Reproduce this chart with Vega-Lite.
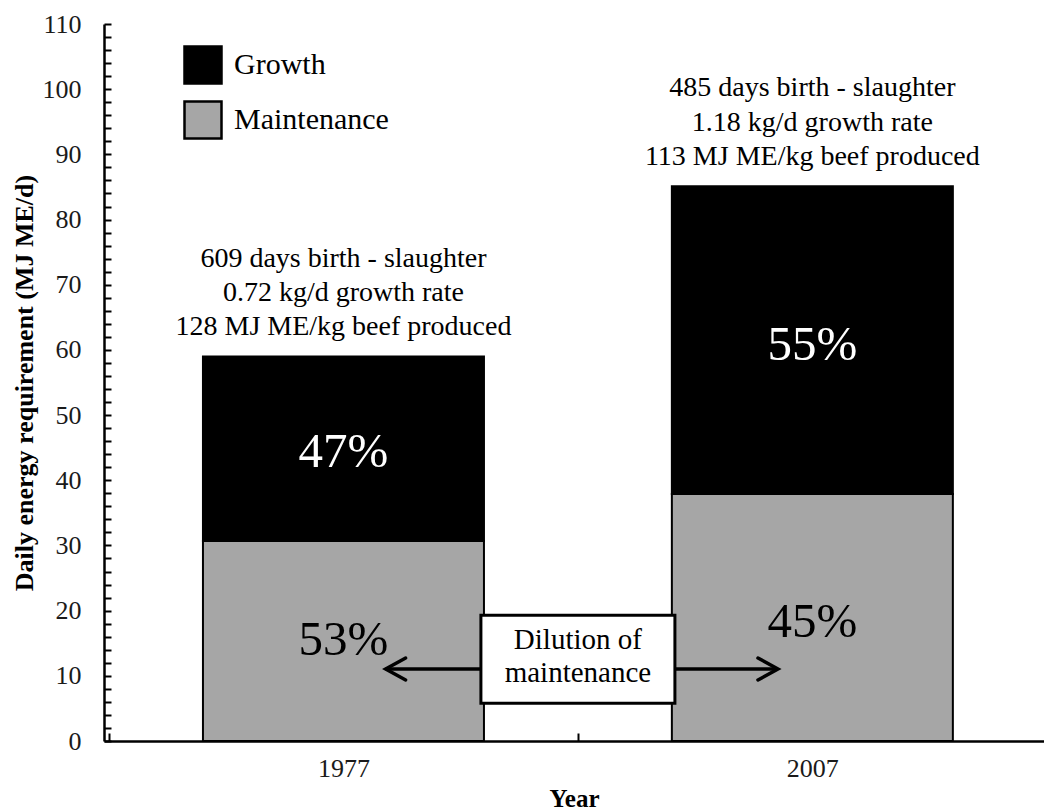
{
  "$schema": "https://vega.github.io/schema/vega-lite/v6.json",
  "width": 940,
  "height": 717,
  "autosize": "none",
  "padding": {"left": 104, "top": 24, "right": 0, "bottom": 69},
  "background": "white",
  "config": {"view": {"stroke": null}, "font": "Liberation Serif"},
  "datasets": {
    "bars": [
      {"Year": 1977, "Component": "Maintenance", "value": 30.7, "ord": 1},
      {"Year": 1977, "Component": "Growth", "value": 28.3, "ord": 2},
      {"Year": 2007, "Component": "Maintenance", "value": 37.9, "ord": 1},
      {"Year": 2007, "Component": "Growth", "value": 47.2, "ord": 2}
    ],
    "notes": [
      {"Year": 1977, "y": 73.95, "label": "609 days birth - slaughter"},
      {"Year": 1977, "y": 68.73, "label": "0.72 kg/d growth rate"},
      {"Year": 1977, "y": 63.52, "label": "128 MJ ME/kg beef produced"},
      {"Year": 2007, "y": 100.18, "label": "485 days birth - slaughter"},
      {"Year": 2007, "y": 94.82, "label": "1.18 kg/d growth rate"},
      {"Year": 2007, "y": 89.6, "label": "113 MJ ME/kg beef produced"}
    ],
    "pctWhite": [
      {"Year": 1977, "y": 44.34, "label": "47%"},
      {"Year": 2007, "y": 60.75, "label": "55%"}
    ],
    "pctBlack": [
      {"Year": 1977, "y": 15.5, "label": "53%"},
      {"Year": 2007, "y": 18.26, "label": "45%"}
    ],
    "box": [{"Year": 1992, "y": 5.8, "y2": 19.3}],
    "boxText": [
      {"Year": 1992, "y": 15.5, "label": "Dilution of"},
      {"Year": 1992, "y": 10.43, "label": "maintenance"}
    ],
    "arrows": [
      {"from": 1985.8, "to": 1979.7, "y": 11.05, "dir": "left"},
      {"from": 1998.2, "to": 2004.8, "y": 11.05, "dir": "right"}
    ]
  },
  "layer": [
    {
      "data": {"name": "bars"},
      "mark": {"type": "bar", "width": 281, "stroke": "black", "strokeWidth": 2},
      "encoding": {
        "x": {
          "field": "Year", "type": "quantitative",
          "scale": {"domain": [1962, 2021.5], "nice": false, "zero": false},
          "axis": {
            "values": [1962, 1977, 1992, 2007],
            "tickCount": 100,
            "format": "d",
            "labelExpr": "datum.value == 1977 || datum.value == 2007 ? datum.label : ''",
            "tickOpacity": {"condition": {"test": "datum.value == 1962 || datum.value == 1992", "value": 1}, "value": 0},
            "tickSize": -8, "tickWidth": 2, "tickColor": "black",
            "domainColor": "black", "domainWidth": 2.5,
            "grid": false,
            "labelFont": "Liberation Serif", "labelFontSize": 26, "labelColor": "#1a1a1a",
            "labelBaseline": "alphabetic", "labelPadding": 43,
            "labelOverlap": false, "labelFlush": false, "labelBound": false,
            "title": "Year", "titleFont": "Liberation Serif", "titleFontSize": 25,
            "titleFontWeight": "bold", "titleColor": "black",
            "titleBaseline": "alphabetic", "titleY": 65
          }
        },
        "y": {
          "field": "value", "type": "quantitative", "stack": "zero",
          "scale": {"domain": [0, 110], "nice": false},
          "axis": {
            "values": [0,2,4,6,8,10,12,14,16,18,20,22,24,26,28,30,32,34,36,38,40,42,44,46,48,50,52,54,56,58,60,62,64,66,68,70,72,74,76,78,80,82,84,86,88,90,92,94,96,98,100,102,104,106,108,110],
            "tickCount": 100,
            "labelExpr": "datum.value % 10 === 0 ? datum.label : ''",
            "tickSize": -7, "tickWidth": 2, "tickColor": "black",
            "domainColor": "black", "domainWidth": 2.5,
            "grid": false,
            "labelFont": "Liberation Serif", "labelFontSize": 26, "labelColor": "#1a1a1a",
            "labelPadding": 30, "labelOverlap": false, "labelFlush": false, "labelBound": false,
            "title": "Daily energy requirement  (MJ ME/d)",
            "titleFont": "Liberation Serif", "titleFontSize": 26, "titleFontWeight": "bold",
            "titleColor": "black", "titleBaseline": "alphabetic", "titleX": -72
          }
        },
        "color": {
          "field": "Component", "type": "nominal",
          "scale": {"domain": ["Growth", "Maintenance"], "range": ["#000000", "#A6A6A6"]},
          "legend": {
            "orient": "none", "legendX": 79, "legendY": 21, "title": null,
            "symbolType": "square", "symbolSize": 1369,
            "symbolStrokeColor": "black", "symbolStrokeWidth": 2.5, "symbolOpacity": 1,
            "labelFont": "Liberation Serif", "labelFontSize": 30, "labelColor": "black",
            "labelOffset": 11, "rowPadding": 7, "padding": 0
          }
        },
        "order": {"field": "ord", "type": "quantitative"}
      }
    },
    {
      "data": {"name": "box"},
      "mark": {"type": "bar", "width": 194, "fill": "white", "stroke": "black", "strokeWidth": 3},
      "encoding": {
        "x": {"field": "Year", "type": "quantitative"},
        "y": {"field": "y", "type": "quantitative"},
        "y2": {"field": "y2"}
      }
    },
    {
      "data": {"name": "arrows"},
      "mark": {"type": "rule", "stroke": "black", "strokeWidth": 3.5},
      "encoding": {
        "x": {"field": "from", "type": "quantitative"},
        "x2": {"field": "to"},
        "y": {"field": "y", "type": "quantitative"}
      }
    },
    {
      "data": {"name": "arrows"},
      "mark": {"type": "point", "filled": false, "stroke": "black", "strokeWidth": 3.5, "size": 1600, "opacity": 1, "strokeCap": "round"},
      "encoding": {
        "x": {"field": "to", "type": "quantitative"},
        "y": {"field": "y", "type": "quantitative"},
        "shape": {
          "field": "dir", "type": "nominal",
          "scale": {"domain": ["left", "right"], "range": ["M 1 -0.55 L 0 0 L 1 0.55", "M -1 -0.55 L 0 0 L -1 0.55"]},
          "legend": null
        }
      }
    },
    {
      "data": {"name": "notes"},
      "mark": {"type": "text", "font": "Liberation Serif", "fontSize": 28, "fill": "black", "align": "center", "baseline": "middle"},
      "encoding": {
        "x": {"field": "Year", "type": "quantitative"},
        "y": {"field": "y", "type": "quantitative"},
        "text": {"field": "label"}
      }
    },
    {
      "data": {"name": "pctWhite"},
      "mark": {"type": "text", "font": "Liberation Serif", "fontSize": 49, "fill": "white", "align": "center", "baseline": "middle"},
      "encoding": {
        "x": {"field": "Year", "type": "quantitative"},
        "y": {"field": "y", "type": "quantitative"},
        "text": {"field": "label"}
      }
    },
    {
      "data": {"name": "pctBlack"},
      "mark": {"type": "text", "font": "Liberation Serif", "fontSize": 49, "fill": "black", "align": "center", "baseline": "middle"},
      "encoding": {
        "x": {"field": "Year", "type": "quantitative"},
        "y": {"field": "y", "type": "quantitative"},
        "text": {"field": "label"}
      }
    },
    {
      "data": {"name": "boxText"},
      "mark": {"type": "text", "font": "Liberation Serif", "fontSize": 29, "fill": "black", "align": "center", "baseline": "middle"},
      "encoding": {
        "x": {"field": "Year", "type": "quantitative"},
        "y": {"field": "y", "type": "quantitative"},
        "text": {"field": "label"}
      }
    }
  ]
}
